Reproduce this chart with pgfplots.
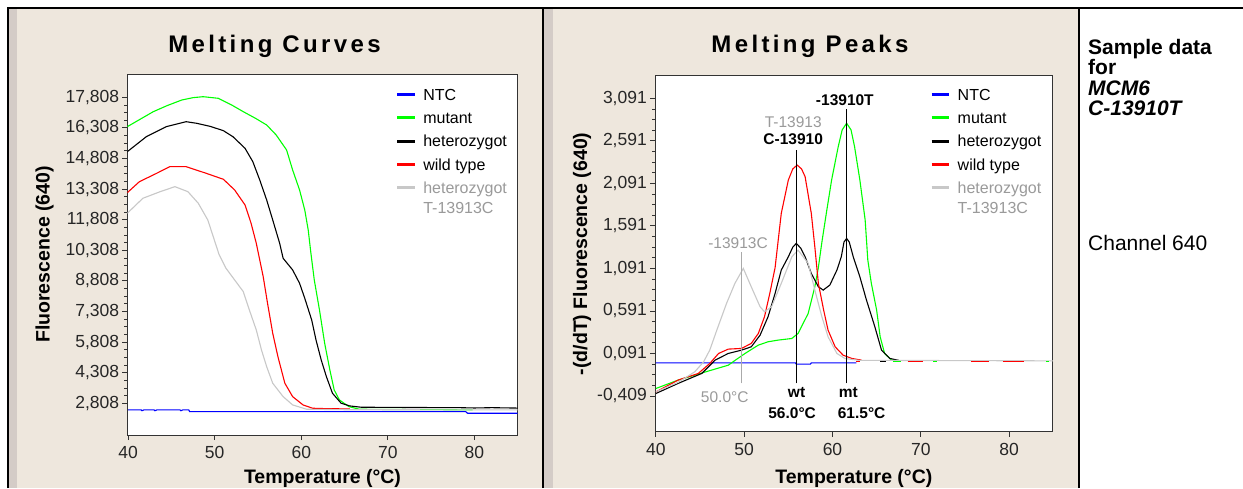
\documentclass[border=0pt]{standalone}
\usepackage{fontspec}
\setmainfont{Liberation Sans}
\newfontfamily\titlefont[LetterSpace=14]{Liberation Sans}
\usepackage{pgfplots}
\pgfplotsset{compat=1.18}
\definecolor{cellbg}{HTML}{EEE7DD}
\definecolor{cellstrip}{HTML}{D4CCC7}
\definecolor{ntcblue}{HTML}{0000FF}
\definecolor{mutgreen}{HTML}{00FF00}
\definecolor{wtred}{HTML}{FF0000}
\definecolor{hetgrey}{HTML}{C8C8C8}
\definecolor{txtgrey}{HTML}{9A9A9A}
\definecolor{frame}{HTML}{333333}

\pgfplotsset{
  meltaxis/.style={
    scale only axis,
    axis background/.style={fill=white},
    axis line style={frame, line width=1pt},
    tick align=outside, tick pos=left,
    major tick length=5pt, minor tick length=3pt,
    every tick/.style={frame, line width=0.8pt},
    xtick={40,50,...,80}, minor y tick num=3,
    scaled ticks=false,
    tick label style={font=\fontsize{17.5}{20}\selectfont, text=black!85, inner sep=3pt},
    xticklabel style={yshift=-3pt},
    /pgf/number format/assume math mode=true,
    label style={font=\fontsize{19.5}{22}\selectfont\bfseries},
    legend cell align=left,
    legend style={draw=none, fill=none, inner sep=0pt, row sep=11.8pt, column sep=7pt,
      font=\fontsize{16}{20.3}\selectfont,
      nodes={inner sep=0pt, text height=11.5pt, text depth=0pt}},
    legend image code/.code={\draw[##1, line width=3pt] (0pt,0pt) -- (17.5pt,0pt);},
    every axis plot/.append style={line width=1.1pt},
  }
}

\begin{document}
\begin{tikzpicture}[x=1pt,y=1pt]
\clip (0,0) rectangle (1243,488);
\fill[white] (0,0) rectangle (1243,488);
% table cells
\fill[cellbg] (9.3,0) rectangle (542.3,478.7);
\fill[cellstrip] (9.3,0) rectangle (17,478.7);
\fill[cellbg] (544.3,0) rectangle (1078,478.7);
\fill[cellstrip] (544.3,0) rectangle (553.3,478.7);
\draw[line width=2pt] (7.3,479.7) -- (1243,479.7);
\draw[line width=2pt] (8.3,0) -- (8.3,480.7);
\draw[line width=2pt] (543.3,0) -- (543.3,480.7);
\draw[line width=2pt] (1079,0) -- (1079,480.7);

% titles
\node[font=\fontsize{24}{27}\selectfont\titlefont\bfseries] at (274.5,441.3) {Melting Curves};
\node[font=\fontsize{24}{27}\selectfont\titlefont\bfseries] at (810,441.3) {Melting Peaks};

% side text
\begin{scope}[every node/.style={anchor=base west, inner sep=0pt, font=\fontsize{21}{23}\selectfont}]
\node at (1088,433.5) {\bfseries Sample data};
\node at (1088,413) {\bfseries for};
\node at (1088,392.5) {\bfseries\itshape MCM6};
\node at (1088,372) {\bfseries\itshape C-13910T};
\node at (1088,237.5) {Channel 640};
\end{scope}

% ---------- melting curves ----------
\begin{axis}[meltaxis,
  at={(127.3pt,53pt)}, anchor=south west, width=390.4pt, height=361pt,
  xmin=39.9, xmax=85,
  ymin=1250, ymax=18950, ytick={2808,4308,...,17808},
  yticklabel style={/pgf/number format/.cd, fixed, precision=0, 1000 sep={,}},
  xlabel={Temperature (°C)}, ylabel={Fluorescence (640)},
  x label style={at={(axis description cs:0.5,-0.119)}, anchor=center},
  y label style={at={(axis description cs:-0.2116,0.5)}, anchor=center},
  legend style={at={(axis description cs:0.6872,0.9598)}, anchor=north west},
]
\addplot[ntcblue] coordinates {
 (40,2480) (41.5,2480) (41.6,2440) (41.8,2480) (43,2480) (43.1,2440) (43.3,2480)
 (46,2480) (46.1,2440) (46.3,2480) (47,2480) (47.1,2396) (79,2396) (79.2,2318) (85,2318)};
\addlegendentry{NTC}
\addplot[mutgreen] coordinates {
 (39.9,16367) (41.5,16760) (42.9,17102) (44.5,17400) (46.2,17676) (47.5,17790)
 (48.65,17838) (50.4,17759) (52,17420) (53.3,17102) (54.7,16780) (56.0,16450)
 (57.1,15960) (58.3,15225) (59.0,14244) (59.8,13264) (60.4,12283) (60.8,11303)
 (61.1,10200) (61.5,8852) (62.1,7382) (62.7,5749) (63.3,4440) (63.8,3460)
 (64.4,2970) (65.5,2641) (66.7,2514) (70,2500) (75,2495) (79.8,2480)};
\addlegendentry{mutant}
\addplot[black] coordinates {
 (39.9,15141) (42.1,15877) (44.4,16367) (46.7,16612) (47.9,16534) (49.5,16380)
 (51.0,16171) (52.1,15877) (53.5,15308) (54.4,14652) (55.2,13754) (56.0,12774)
 (56.7,11793) (57.5,10651) (57.9,9916) (59.0,9342) (59.8,8690) (60.4,7955)
 (61.2,6891) (61.7,5911) (62.3,4930) (62.9,4112) (63.6,3298) (64.6,2808)
 (65.6,2676) (66.9,2612) (72,2600) (78.3,2590) (80,2575) (82,2590) (85,2570)};
\addlegendentry{heterozygot}
\addplot[wtred] coordinates {
 (39.9,13132) (41.3,13671) (43.3,14083) (44.8,14406) (46.7,14406) (49.0,14083)
 (51.0,13788) (52.3,13264) (53.5,12529) (54.2,11631) (54.8,10651) (55.6,9014)
 (56.1,7710) (56.7,6239) (57.3,5092) (58.1,3788) (59.0,3132) (60.2,2725)
 (61.3,2563) (63,2540) (65.6,2530)};
\addlegendentry{wild type}
\addplot[hetgrey] coordinates {
 (39.9,12122) (41.7,12857) (43.7,13181) (45.4,13426) (46.9,13181) (48.1,12612)
 (49.2,11793) (50.5,10100) (51.3,9426) (52.3,8852) (53.3,8279) (54.0,7382)
 (54.8,6401) (55.4,5421) (56.0,4602) (56.7,3788) (57.9,3132) (59.0,2725)
 (60.6,2514) (65,2490) (85,2480)};
\addlegendentry[text=txtgrey]{\smash{\begin{tabular}[t]{@{}l@{}}heterozygot\\T-13913C\end{tabular}}}
\end{axis}

% ---------- melting peaks ----------
\begin{axis}[meltaxis,
  at={(655pt,56.3pt)}, anchor=south west, width=397.8pt, height=355.7pt,
  xmin=39.9, xmax=84.95,
  ymin=-0.829, ymax=3.353,
  ytick={-0.409,0.091,0.591,1.091,1.591,2.091,2.591,3.091},
  yticklabel style={/pgf/number format/.cd, fixed, fixed zerofill, precision=3, use comma, 1000 sep={}},
  xlabel={Temperature (°C)}, ylabel={-(d/dT) Fluorescence (640)},
  x label style={at={(axis description cs:0.5,-0.1302)}, anchor=center},
  y label style={at={(axis description cs:-0.1835,0.5)}, anchor=center},
  legend style={at={(axis description cs:0.6913,0.9649)}, anchor=north west},
  unbounded coords=jump,
]
\addplot[ntcblue] coordinates {
 (40,-0.02) (55.8,-0.02) (55.9,-0.035) (57.5,-0.035) (57.6,-0.02) (62.7,-0.02)};
\addlegendentry{NTC}
\addplot[mutgreen] coordinates {
 (40,-0.321) (42.5,-0.223) (44.4,-0.164) (46.3,-0.105) (48.2,-0.047) (49.0,0.012)
 (50.1,0.091) (51.6,0.189) (52.7,0.228) (53.85,0.248) (55.4,0.267) (56.1,0.326)
 (57.25,0.562) (58.0,0.875) (58.4,1.10) (58.8,1.40) (59.3,1.738) (59.9,2.130)
 (60.65,2.522) (61.1,2.72) (61.6,2.797) (62.1,2.72) (62.5,2.522) (63.1,2.130)
 (63.7,1.660) (64.0,1.189) (64.4,0.915) (65.0,0.600) (65.4,0.287) (65.9,0.091)
 (66.7,0.012) (67.5,0.0)};
\addlegendentry{mutant}
\addplot[black] coordinates {
 (40,-0.38) (42.5,-0.262) (45.2,-0.144) (46.7,0.012) (48.2,0.091) (49.7,0.130)
 (50.8,0.169) (51.8,0.306) (52.7,0.522) (53.5,0.797) (54.2,1.071) (55.0,1.228)
 (55.5,1.34) (55.9,1.385) (56.4,1.33) (56.9,1.228) (57.6,1.032) (58.4,0.875)
 (58.95,0.836) (59.7,0.895) (60.5,1.071) (61.0,1.228) (61.3,1.40) (61.6,1.444)
 (61.9,1.40) (62.35,1.228) (63.1,0.992) (63.85,0.718) (64.8,0.404) (65.55,0.130)
 (66.5,0.032) (67.5,0.01)};
\addlegendentry{heterozygot}
\addplot[wtred] coordinates {
 (40,-0.361) (42.5,-0.223) (44.8,-0.144) (46.1,-0.027) (47.1,0.091) (48.2,0.142)
 (49.7,0.150) (50.8,0.209) (51.6,0.326) (52.3,0.522) (52.9,0.797) (53.5,1.10)
 (54.2,1.738) (55.0,2.130) (55.5,2.26) (56.0,2.306) (56.5,2.26) (56.9,2.169)
 (57.6,1.738) (58.0,1.345) (58.4,0.915) (59.0,0.600) (59.5,0.365) (60.3,0.169)
 (61.2,0.071) (62.2,0.032) (63.3,0.012)};
\addlegendentry{wild type}
\addplot[hetgrey] coordinates {
 (40,-0.36) (42.5,-0.25) (44.4,-0.125) (45.4,-0.008) (46.1,0.130) (46.9,0.365)
 (48.0,0.679) (48.95,0.915) (49.9,1.091) (50.8,0.875) (51.8,0.640) (52.3,0.581)
 (53.1,0.640) (54.2,0.915) (55.4,1.228) (56.1,1.306) (57.25,1.150) (58.0,0.836)
 (58.8,0.522) (59.5,0.287) (60.5,0.091) (61.4,0.032) (63,0.01) (85,0.004)};
\addlegendentry[text=txtgrey]{\smash{\begin{tabular}[t]{@{}l@{}}heterozygot\\T-13913C\end{tabular}}}
% baseline fragments of the other curves
\addplot[wtred, forget plot] coordinates {
 (62.7,-0.004) (63.1,-0.004) (nan,nan) (68.5,-0.004) (70.2,-0.004) (nan,nan)
 (75.7,-0.004) (77.7,-0.004) (nan,nan) (79.3,-0.004) (81.7,-0.004)};
\addplot[mutgreen, forget plot] coordinates {
 (66.8,-0.004) (67.8,-0.004) (nan,nan) (71.4,-0.004) (71.8,-0.004) (nan,nan)
 (84.2,-0.004) (84.5,-0.004)};
\addplot[black, forget plot] coordinates {(65.4,-0.004) (66.1,-0.004)};
% Tm markers
\addplot[hetgrey!85!black, line width=1.3pt, forget plot] coordinates {(49.7,-0.262) (49.7,1.286)};
\addplot[black, line width=1.3pt, forget plot] coordinates {(55.95,-0.262) (55.95,2.483)};
\addplot[black, line width=1.3pt, forget plot] coordinates {(61.55,-0.262) (61.55,2.962)};
\node[font=\fontsize{15.5}{18}\selectfont\bfseries] at (axis cs:61.4,3.071) {-13910T};
\node[font=\fontsize{15.5}{18}\selectfont, text=txtgrey] at (axis cs:55.55,2.809) {T-13913};
\node[font=\fontsize{15.5}{18}\selectfont\bfseries] at (axis cs:55.55,2.612) {C-13910};
\node[font=\fontsize{15.5}{18}\selectfont, text=txtgrey] at (axis cs:49.3,1.385) {-13913C};
\node[font=\fontsize{15.5}{18}\selectfont, text=txtgrey] at (axis cs:47.8,-0.427) {50.0°C};
\node[font=\fontsize{15.5}{18}\selectfont\bfseries] at (axis cs:55.93,-0.373) {wt};
\node[font=\fontsize{15.5}{18}\selectfont\bfseries] at (axis cs:55.43,-0.608) {56.0°C};
\node[font=\fontsize{15.5}{18}\selectfont\bfseries] at (axis cs:61.8,-0.373) {mt};
\node[font=\fontsize{15.5}{18}\selectfont\bfseries] at (axis cs:63.3,-0.608) {61.5°C};
\end{axis}
\end{tikzpicture}
\end{document}
